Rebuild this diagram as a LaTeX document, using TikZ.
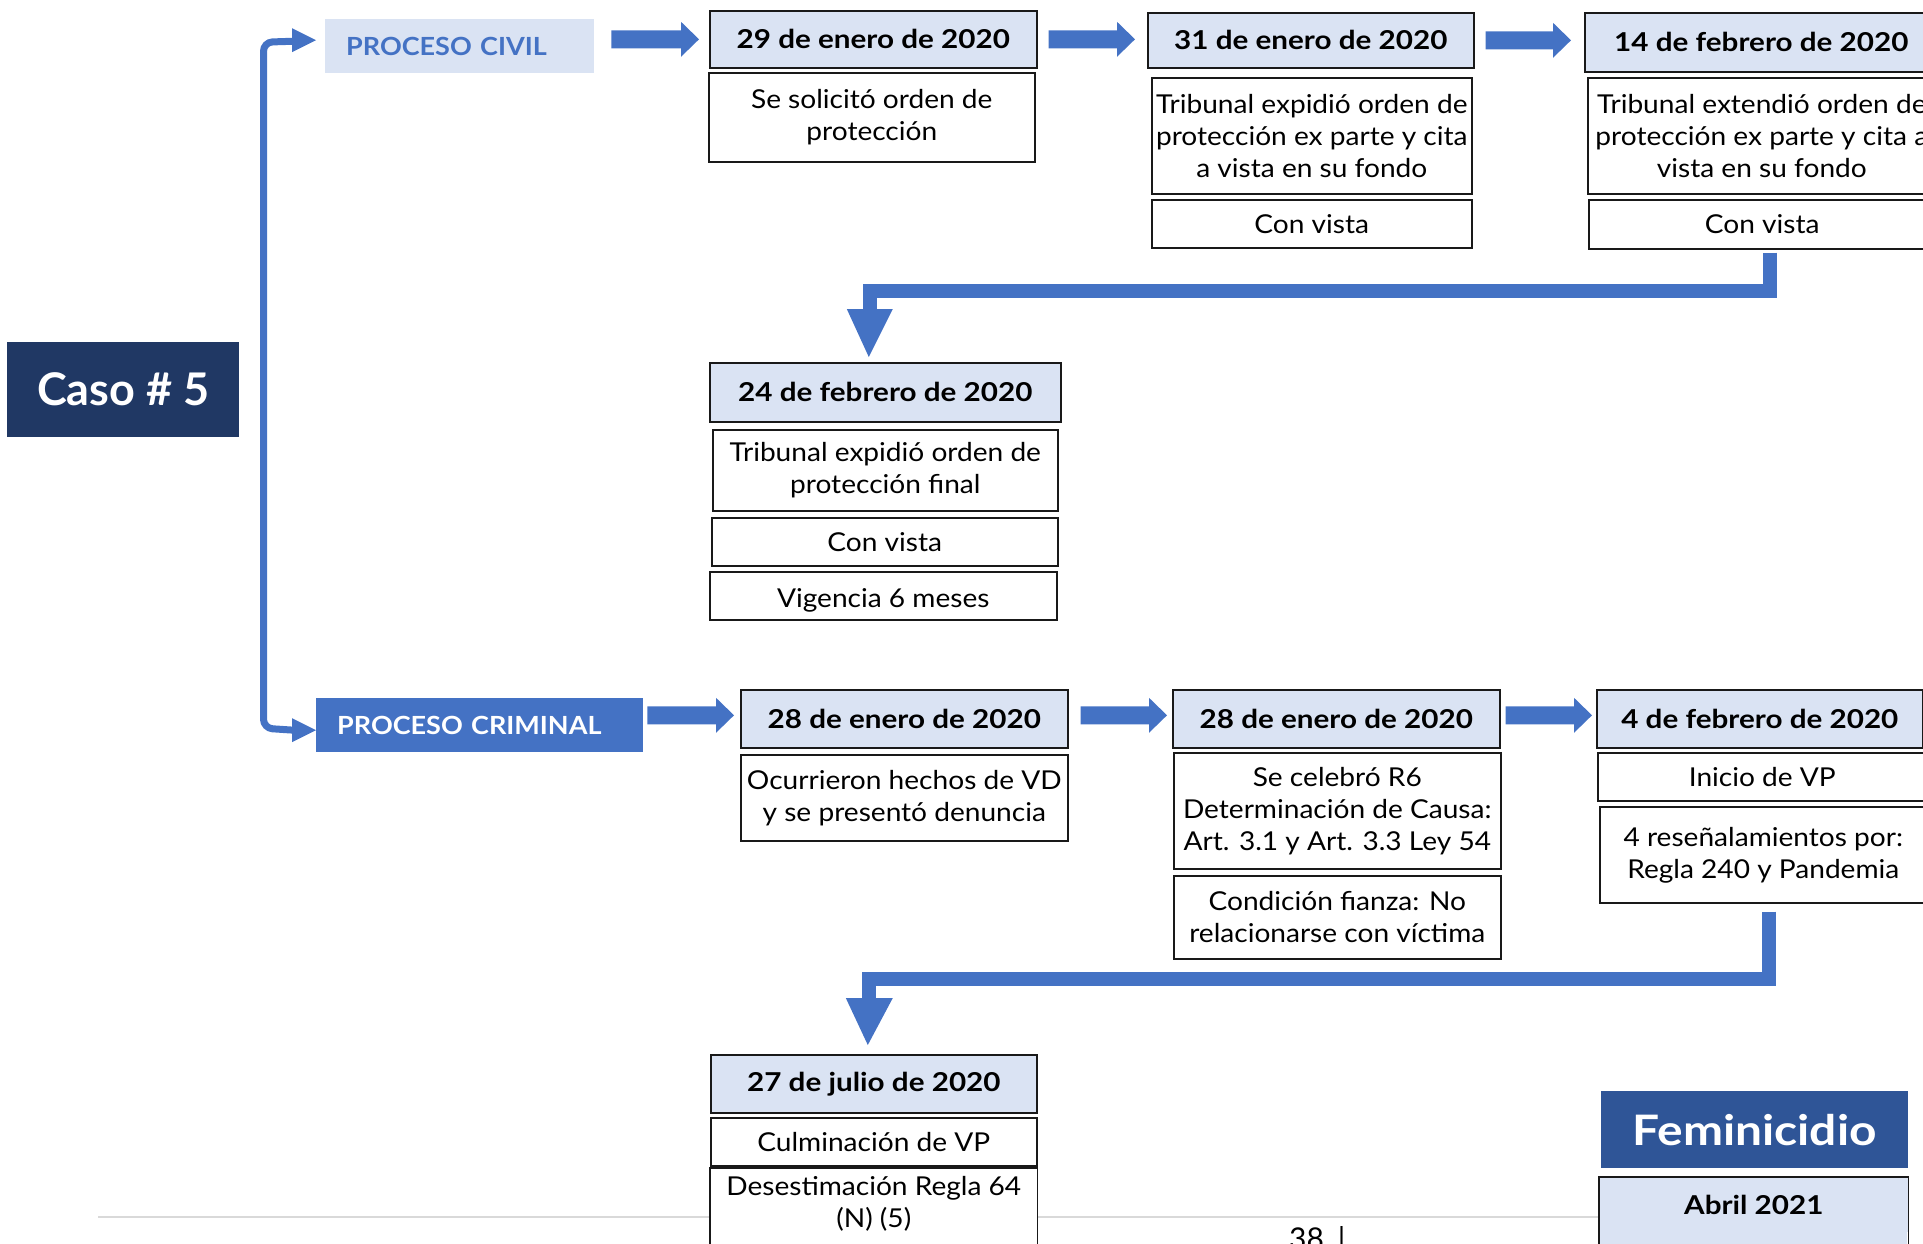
\documentclass[tikz,border=0pt]{standalone}
\usepackage{fontspec}
\setmainfont{Lato}
\newfontfamily\wide{Lato}[FakeStretch=1.08]
\newfontfamily\wider{Lato}[FakeStretch=1.14]
\usetikzlibrary{calc}
\definecolor{ablue}{HTML}{4472C4}
\definecolor{lfill}{HTML}{DAE3F3}
\definecolor{navy}{HTML}{203864}
\definecolor{fblue}{HTML}{2F5597}
\definecolor{gline}{HTML}{D9D9D9}
\newcommand{\Bx}[7]{\node[#2, minimum width={(#5-#3)*1pt}, minimum height={(#6-#4)*1pt}] (#1) at (#3,#4) {#7};}
\newcommand{\Harr}[2]{\fill[ablue] let \p1=#1, \p2=#2 in (\x1,\y1-9pt) -- (\x2-18pt,\y1-9pt) -- (\x2-18pt,\y1-17.5pt) -- (\x2,\y1) -- (\x2-18pt,\y1+17.5pt) -- (\x2-18pt,\y1+9pt) -- (\x1,\y1+9pt) -- cycle;}
\begin{document}
\begin{tikzpicture}[x=1pt,y=-1pt,
  datebox/.style={draw=black!90, line width=1.6pt, fill=lfill, inner sep=0pt, anchor=north west, align=center, font=\wider\bfseries\fontsize{26}{30}\selectfont},
  txtbox/.style={draw=black!90, line width=1.6pt, fill=white, inner sep=0pt, anchor=north west, align=center, font=\wide\fontsize{26}{32}\selectfont},
  border/.style={draw=black!90, line width=1.6pt},
  conn/.style={draw=ablue, line width=14pt, line join=miter},
  lead/.style={draw=ablue, line width=7pt, rounded corners=9pt},
]
\useasboundingbox (0,0) rectangle (1923,1244);
\clip (0,0) rectangle (1923,1244);

% page rule
\draw[gline, line width=2pt] (98,1217) -- (1599,1217);

% left side
\node[fill=navy, text=white, inner sep=0pt, anchor=north west, minimum width=232pt, minimum height=95pt, font=\bfseries\fontsize{45}{54}\selectfont] (caso) at (7,342) {Caso \# 5};
\node[fill=lfill, text=ablue, inner sep=0pt, anchor=north west, minimum width=269pt, minimum height=54pt, text width=227pt, align=left, font=\wide\bfseries\fontsize{25}{30}\selectfont] (pc) at (325,19) {PROCESO CIVIL};
\node[fill=ablue, text=white, inner sep=0pt, anchor=north west, minimum width=327pt, minimum height=54pt, text width=285pt, align=left, font=\wide\bfseries\fontsize{25}{30}\selectfont] (crim) at (316,698) {PROCESO CRIMINAL};

% civil row
\Bx{d29}{datebox}{709}{10}{1036}{67}{29 de enero de 2020}
\Bx{t29}{txtbox}{708}{72}{1034}{161}{Se solicitó orden de\\protección}
\Bx{d31}{datebox}{1147}{12}{1473}{67}{31 de enero de 2020}
\Bx{t31}{txtbox}{1151}{77}{1471}{193}{Tribunal expidió orden de\\protección ex parte y cita\\a vista en su fondo}
\Bx{cv31}{txtbox}{1151}{199}{1471}{247}{Con vista}
\Bx{d14}{datebox}{1584}{12}{1937}{71}{14 de febrero de 2020}
\Bx{t14}{txtbox}{1587}{77}{1935}{193}{Tribunal extendió orden de\\protección ex parte y cita a\\vista en su fondo}
\Bx{cv14}{txtbox}{1588}{199}{1935}{248}{Con vista}

\Bx{d24}{datebox}{709}{362}{1060}{421}{24 de febrero de 2020}
\Bx{t24}{txtbox}{712}{429}{1057}{510}{Tribunal expidió orden de\\protección final}
\Bx{cv24}{txtbox}{711}{517}{1057}{565}{Con vista}
\Bx{vg24}{txtbox, text height=24pt, text depth=0pt}{709}{571}{1056}{619}{Vigencia 6 meses}

% criminal row
\Bx{e28a}{datebox}{740}{689}{1067}{747}{28 de enero de 2020}
\Bx{t28a}{txtbox}{740}{754}{1067}{840}{Ocurrieron hechos de VD\\y se presentó denuncia}
\Bx{e28b}{datebox}{1172}{689}{1499}{747}{28 de enero de 2020}
\Bx{t28b}{txtbox}{1173}{752}{1500}{868}{Se celebró R6\\Determinación de Causa:\\Art. 3.1 y Art. 3.3 Ley 54}
\Bx{c28b}{txtbox}{1173}{875}{1500}{958}{Condición fianza: No\\relacionarse con víctima}
\Bx{f4}{datebox}{1596}{689}{1922}{747}{4 de febrero de 2020}
\Bx{iv4}{txtbox}{1597}{752}{1926}{800}{Inicio de VP}
\Bx{r4}{txtbox}{1599}{806}{1926}{902}{4 reseñalamientos por:\\Regla 240 y Pandemia}

\Bx{d27}{datebox}{710}{1054}{1036}{1112}{27 de julio de 2020}
\Bx{cu27}{txtbox}{710}{1117}{1036}{1165}{Culminación de VP}
\Bx{de27}{txtbox, draw=none}{710}{1168}{1036}{1238}{Desestimación Regla 64\\(N) (5)}
\draw[border] ($(de27.south west)+(0,20)$) |- (de27.north east) -- ($(de27.south east)+(0,20)$);

% feminicidio
\node[fill=fblue, text=white, inner sep=0pt, anchor=north west, minimum width=307pt, minimum height=77pt, font=\wider\bfseries\fontsize{42}{50}\selectfont] (fem) at (1601,1091) {Feminicidio};
\fill[lfill] (1599,1231) rectangle (1907,1260);
\Bx{ab}{datebox, draw=none}{1599}{1177}{1907}{1231}{Abril 2021}
\draw[border] ($(ab.south west)+(0,30)$) |- (ab.north east) -- ($(ab.south east)+(0,30)$);

% page number
\node[anchor=base west, inner sep=0pt, font=\fontsize{30}{36}\selectfont] (pg) at (1289,1249) {38\hspace{14pt}|};

% lead connectors from the left spine
\draw[lead] ($(pc.west)+(-30,-5)$) -- ($(pc.west)+(-61.5,-4)$) -- ($(crim.west)+(-52.5,3)$) -- ($(crim.west)+(-22,5)$);
\fill[ablue] ($(pc.west)+(-33,-18)$) -- ($(pc.west)+(-9,-6)$) -- ($(pc.west)+(-33,6)$) -- cycle;
\fill[ablue] ($(crim.west)+(-24,-7)$) -- ($(crim.west)+(0,5)$) -- ($(crim.west)+(-24,17)$) -- cycle;

% block arrows
\Harr{($(pc.east |- d29.west)+(17,0)$)}{($(d29.west)+(-10,0)$)}
\Harr{($(d29.east)+(11,0)$)}{($(d31.west)+(-12,0)$)}
\Harr{($(d31.east)+(11,0)$)}{($(d14.west)+(-13,0)$)}
\Harr{($(crim.east |- e28a.west)+(4,-3.5)$)}{($(e28a.west)+(-6,0)$)}
\Harr{($(e28a.east)+(12,-3.5)$)}{($(e28b.west)+(-5,0)$)}
\Harr{($(e28b.east)+(5,-3.5)$)}{($(f4.west)+(-4,0)$)}

% bent connectors
\draw[conn] ($(cv14.south)+(7.5,3)$) |- ($(d24.north)+(-15.5,-71)$) -- ($(d24.north)+(-15.5,-52)$);
\fill[ablue] ($(d24.north)+(-38.5,-53)$) -- ($(d24.north)+(7.5,-53)$) -- ($(d24.north)+(-16.5,-5)$) -- cycle;
\draw[conn] ($(r4.south)+(6,8)$) |- ($(d27.north)+(-4.5,-75.5)$) -- ($(d27.north)+(-4.5,-55)$);
\fill[ablue] ($(d27.north)+(-28,-56)$) -- ($(d27.north)+(19,-56)$) -- ($(d27.north)+(-6,-9)$) -- cycle;
\end{tikzpicture}
\end{document}
